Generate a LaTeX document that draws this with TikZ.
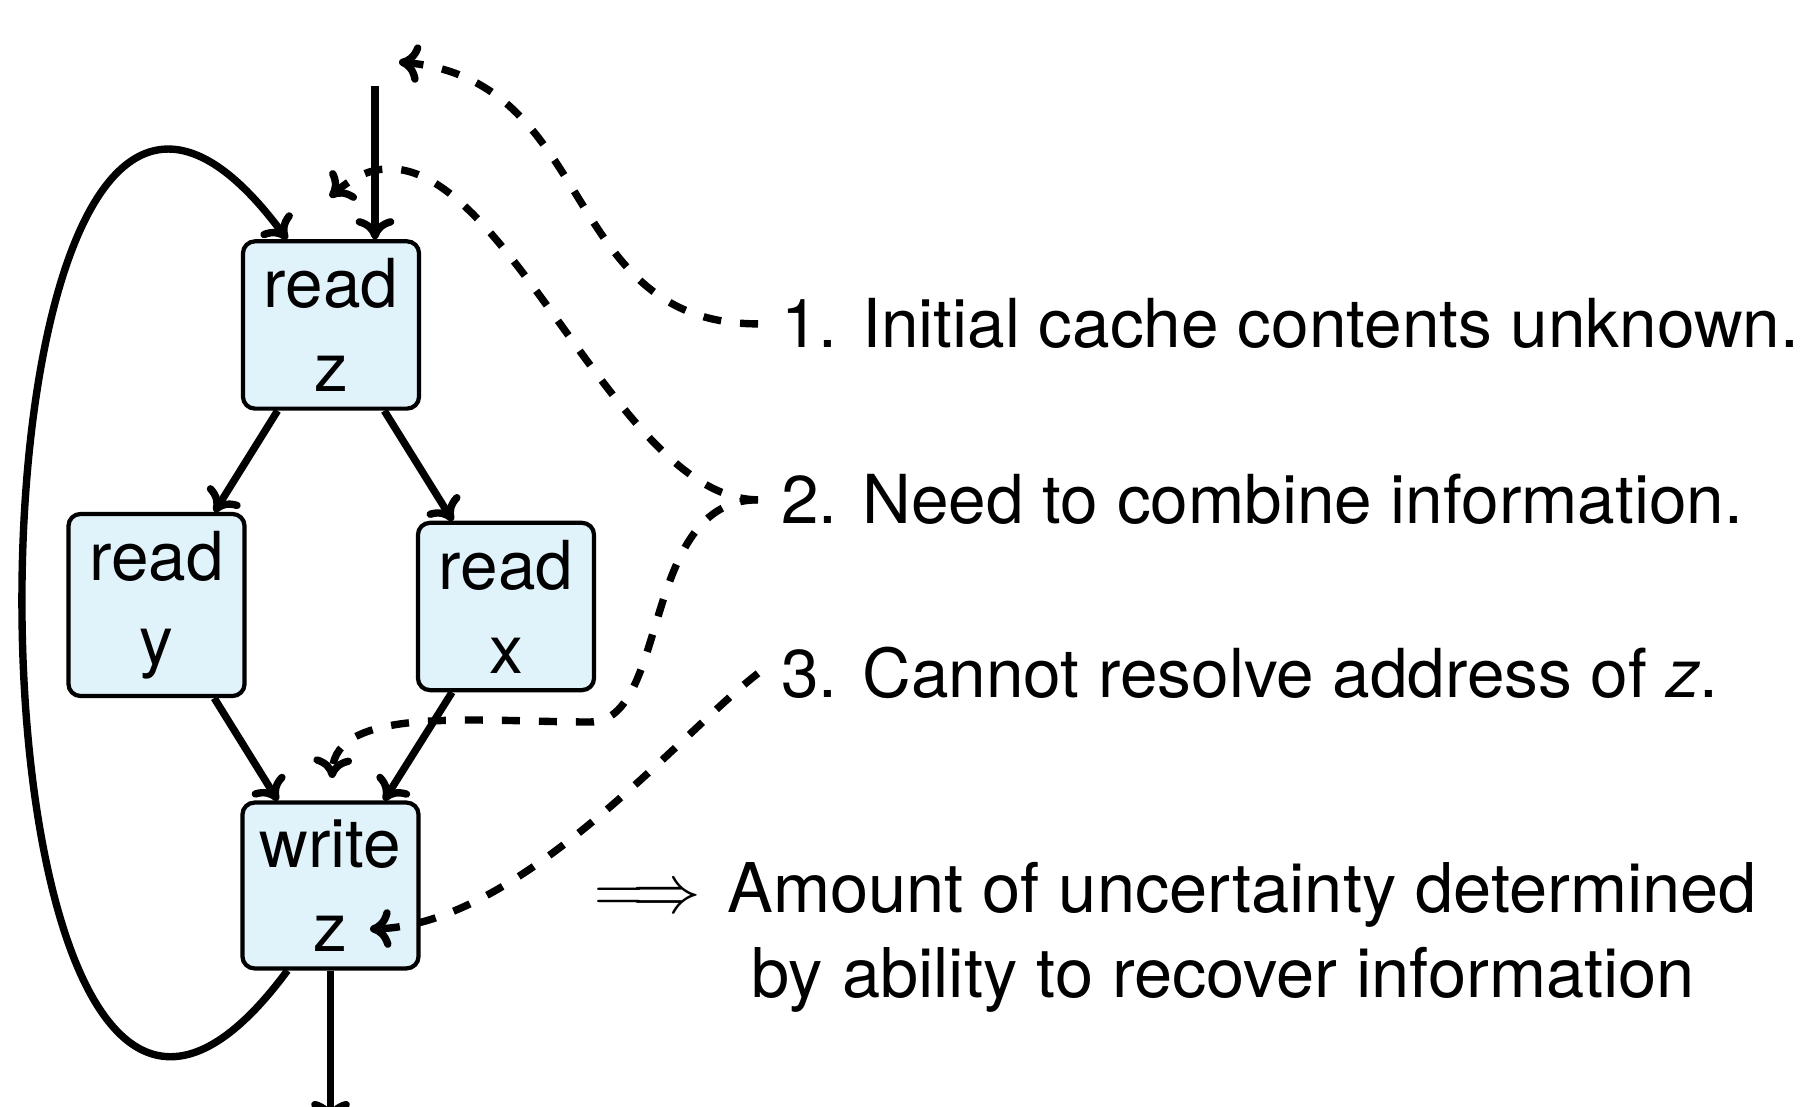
\documentclass[tikz,border=0pt]{standalone}
\usepackage{fix-cm}
\usepackage[no-math]{fontspec}
\setmainfont{TeX Gyre Heros}
\usetikzlibrary{arrows.meta}
\definecolor{boxblue}{RGB}{224,242,250}
\newcommand\bigfont{\fontsize{19.2pt}{0.84cm}\selectfont}
\newcommand\amtfont{\fontsize{19.5pt}{0.85cm}\selectfont}
\begin{document}
\begin{tikzpicture}[x=0.01cm,y=-0.01cm,
  >={Computer Modern Rightarrow[length=6pt,width=11pt]},
  box/.style={draw=black,line width=1.2pt,fill=boxblue,rounded corners=0.12cm,
    minimum width=1.76cm,inner xsep=0pt,inner ysep=0.17cm,align=center,font=\bigfont},
  conn/.style={line width=2.1pt,->},
  hint/.style={line width=2.1pt,->,dash pattern=on 0.18cm off 0.19cm},
  note/.style={font=\bigfont,inner sep=0.225cm,anchor=base west}]
\useasboundingbox (0,0) rectangle (1800,1107);

\node[box] (rz) at (331,325) {read\\z};
\node[box] (ry) at (156.5,605) {read\\y};
\node[box] (rx) at (506,606.5) {read\\x};
\node[box] (wz) at (330.5,885.5) {write\\z};

\coordinate (in) at (375,86);
\coordinate (out) at (330.5,1122);

\draw[conn] (in) -- (in |- rz.north);
\draw[conn] (rz) -- (ry);
\draw[conn] (rz) -- (rx);
\draw[conn] (ry) -- (wz);
\draw[conn] (rx) -- (wz);
\draw[conn] (wz.south) -- (out);
\draw[conn] ([xshift=-0.43cm]wz.south) .. controls +(-353,478) and +(-353,-478) .. ([xshift=-0.44cm]rz.north);

\node[note] (t1) at (758,348) {1. Initial cache contents unknown.};
\node[note] (t2) at (758,524) {2. Need to combine information.};
\node[note] (t3) at (758,698) {3. Cannot resolve address of \textit{z}.};
\node[font=\amtfont,anchor=base west,inner sep=0pt,align=left] (amt) at (594,997.5)
  {$\Longrightarrow$\hspace{0.07cm} Amount of uncertainty determined\\\hspace*{1.57cm}by ability to recover information};

\coordinate (c1) at (399,62);
\coordinate (c2) at (330,197);
\coordinate (c2m) at (590,722);
\coordinate (c3) at (332,778);
\coordinate (c4) at (370,929);

\draw[hint] (t1.west) .. controls +(-200,0) and +(200,18) .. (c1);
\draw[hint] (t2.west) .. controls +(-158,0) and +(150,-132) .. (c2);
\draw[hint] (t2.west) .. controls +(-118,0) and +(80,0) .. (c2m) .. controls +(-110,0) and +(3,-73) .. (c3);
\draw[hint] (t3.west) .. controls +(-78,60) and +(150,-4) .. (c4);
\end{tikzpicture}
\end{document}
